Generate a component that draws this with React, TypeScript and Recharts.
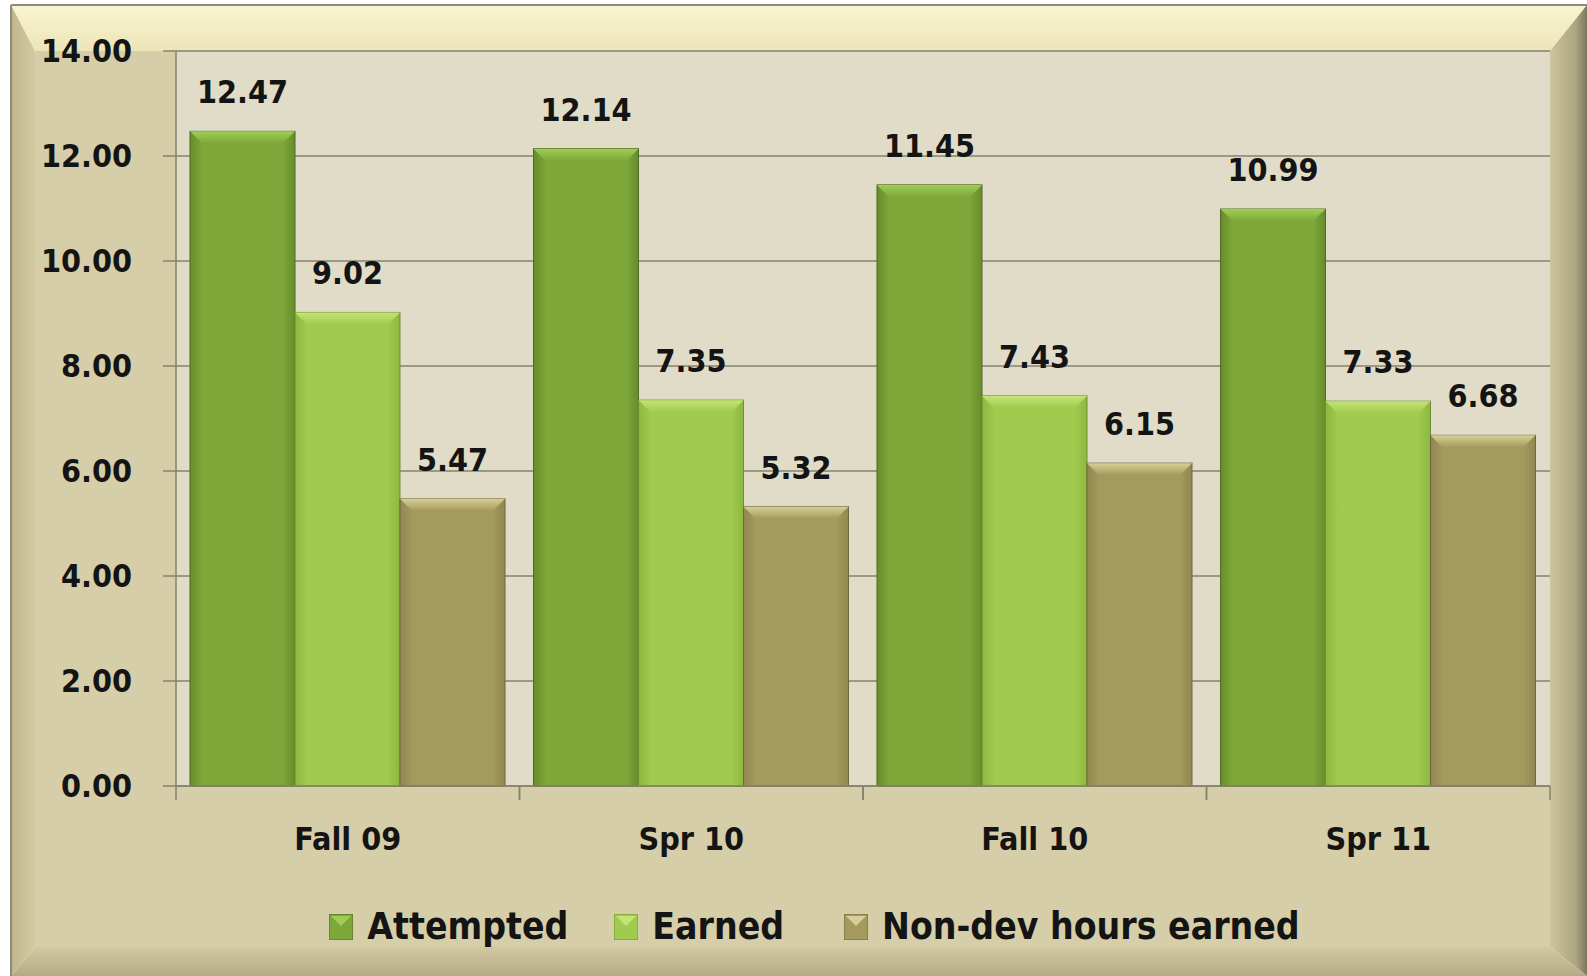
import React from 'react';
import { BarChart, Bar, XAxis, YAxis, CartesianGrid, LabelList, Legend } from 'recharts';

const categories = ['Fall 09', 'Spr 10', 'Fall 10', 'Spr 11'];
const attempted = [12.47, 12.14, 11.45, 10.99];
const earned = [9.02, 7.35, 7.43, 7.33];
const nonDev = [5.47, 5.32, 6.15, 6.68];
const yTicks = [0, 2, 4, 6, 8, 10, 12, 14];

const data = categories.map((name, i) => ({
  name,
  attempted: attempted[i],
  earned: earned[i],
  nonDev: nonDev[i],
}));

const W = 1587;
const H = 976;
const PLOT_LEFT = 176;
const PLOT_RIGHT = 1550;
const HALF_BAND = (PLOT_RIGHT - PLOT_LEFT) / categories.length / 2;

const FONT = '"DejaVu Sans Condensed", "DejaVu Sans", sans-serif';
const AXIS = '#86826e';

const series = [
  { key: 'attempted', name: 'Attempted', dark: '#688c2a', mid: '#7ea73a', top: '#9fce55', edge: '#4f6a22' },
  { key: 'earned', name: 'Earned', dark: '#8cb83e', mid: '#a0cb4f', top: '#c4e477', edge: '#6e8f32' },
  { key: 'nonDev', name: 'Non-dev hours earned', dark: '#928750', mid: '#a49a5d', top: '#d8cf98', edge: '#6f6740' },
];
const legendGaps = [0, 46, 60];

function BevelBar(props: any) {
  const { x, y, width, height, sid } = props;
  if (!height || height <= 0) return null;
  const b = 12;
  const s = series.find((d) => d.key === sid)!;
  return (
    <g>
      <rect x={x} y={y} width={width} height={height} fill={`url(#grad-${sid})`} stroke={s.edge} strokeWidth={1} />
      <polygon
        points={`${x},${y} ${x + width},${y} ${x + width - b},${y + b} ${x + b},${y + b}`}
        fill={`url(#top-${sid})`}
      />
    </g>
  );
}

function XTick(props: any) {
  const { x, y, payload } = props;
  return (
    <g>
      <line x1={x - HALF_BAND} y1={y} x2={x - HALF_BAND} y2={y + 14} stroke={AXIS} strokeWidth={1.5} />
      <line x1={x + HALF_BAND} y1={y} x2={x + HALF_BAND} y2={y + 14} stroke={AXIS} strokeWidth={1.5} />
      <text x={x} y={y + 64} textAnchor="middle" fontFamily={FONT} fontWeight="bold" fontSize={32} fill="#141414">
        {payload.value}
      </text>
    </g>
  );
}

function YTick(props: any) {
  const { x, y, payload } = props;
  return (
    <text x={x} y={y + 11} textAnchor="end" fontFamily={FONT} fontWeight="bold" fontSize={32} fill="#141414">
      {Number(payload.value).toFixed(2)}
    </text>
  );
}

function LegendIcon({ sid }: { sid: string }) {
  const s = series.find((d) => d.key === sid)!;
  return (
    <svg width={24} height={26} style={{ display: 'block' }}>
      <rect x={0} y={0} width={24} height={26} fill={s.mid} stroke={s.edge} strokeWidth={1} />
      <polygon points="2,2 22,2 12,12" fill={s.top} />
    </svg>
  );
}

function renderLegend(props: any) {
  const items = props.payload || [];
  return (
    <div style={{ display: 'flex', justifyContent: 'center', alignItems: 'center', paddingLeft: 42 }}>
      {items.map((it: any, i: number) => (
        <div key={it.value} style={{ display: 'flex', alignItems: 'center', marginLeft: legendGaps[i] }}>
          <LegendIcon sid={it.dataKey} />
          <span style={{ marginLeft: 14, fontFamily: FONT, fontWeight: 'bold', fontSize: 37, color: '#141414' }}>
            {it.value}
          </span>
        </div>
      ))}
    </div>
  );
}

function Frame() {
  const x0 = 11, y0 = 5, x1 = 1587, y1 = 976;
  const xi0 = 35, yi0 = 51, xi1 = 1550, yi1 = 947;
  return (
    <svg width={W} height={H} style={{ position: 'absolute', left: 0, top: 0 }}>
      <defs>
        <linearGradient id="bv-top" x1="0" y1="0" x2="0" y2="1">
          <stop offset="0%" stopColor="#f9f4d2" />
          <stop offset="100%" stopColor="#ede5b8" />
        </linearGradient>
        <linearGradient id="bv-left" x1="0" y1="0" x2="1" y2="0">
          <stop offset="0%" stopColor="#bfb68e" />
          <stop offset="100%" stopColor="#d3caa2" />
        </linearGradient>
        <linearGradient id="bv-right" x1="0" y1="0" x2="1" y2="0">
          <stop offset="0%" stopColor="#cbc49e" />
          <stop offset="70%" stopColor="#aca57f" />
          <stop offset="100%" stopColor="#7c7660" />
        </linearGradient>
        <linearGradient id="bv-bottom" x1="0" y1="0" x2="0" y2="1">
          <stop offset="0%" stopColor="#d2c9a2" />
          <stop offset="100%" stopColor="#b3ab86" />
        </linearGradient>
      </defs>
      <rect x={0} y={0} width={W} height={H} fill="#ffffff" />
      <rect x={xi0} y={yi0} width={xi1 - xi0} height={yi1 - yi0} fill="#d6cea8" />
      <polygon points={`${x0},${y0} ${x1},${y0} ${xi1},${yi0} ${xi0},${yi0}`} fill="url(#bv-top)" />
      <polygon points={`${x0},${y0} ${xi0},${yi0} ${xi0},${yi1} ${x0},${y1}`} fill="url(#bv-left)" />
      <polygon points={`${x1},${y0} ${x1},${y1} ${xi1},${yi1} ${xi1},${yi0}`} fill="url(#bv-right)" />
      <polygon points={`${x0},${y1} ${xi0},${yi1} ${xi1},${yi1} ${x1},${y1}`} fill="url(#bv-bottom)" />
      <line x1={x0} y1={y0} x2={x1} y2={y0} stroke="#8f8b7a" strokeWidth={2} />
      <line x1={x0} y1={y0} x2={x0} y2={y1} stroke="#8f8b7a" strokeWidth={2} />
    </svg>
  );
}

export default function App() {
  return (
    <div style={{ position: 'absolute', left: 0, top: 0, width: W, height: H, overflow: 'hidden' }}>
      <Frame />
      <div style={{ position: 'absolute', left: 0, top: 0 }}>
        <BarChart
          width={W}
          height={H}
          data={data}
          margin={{ top: 51, right: W - PLOT_RIGHT, left: 0, bottom: 130 }}
          barCategoryGap={14}
          barGap={0}
        >
          <defs>
            {series.map((s) => (
              <linearGradient key={s.key} id={`grad-${s.key}`} x1="0" y1="0" x2="1" y2="0">
                <stop offset="0%" stopColor={s.dark} />
                <stop offset="12%" stopColor={s.mid} />
                <stop offset="88%" stopColor={s.mid} />
                <stop offset="100%" stopColor={s.dark} />
              </linearGradient>
            ))}
            {series.map((s) => (
              <linearGradient key={`t-${s.key}`} id={`top-${s.key}`} x1="0" y1="0" x2="0" y2="1">
                <stop offset="0%" stopColor={s.top} />
                <stop offset="100%" stopColor={s.mid} />
              </linearGradient>
            ))}
          </defs>
          <CartesianGrid vertical={false} stroke={AXIS} strokeWidth={1.5} fill="#e0dcc7" fillOpacity={1} />
          <XAxis
            dataKey="name"
            height={60}
            tickSize={0}
            tickMargin={0}
            tick={<XTick />}
            axisLine={{ stroke: AXIS, strokeWidth: 1.5 }}
            interval={0}
          />
          <YAxis
            width={PLOT_LEFT}
            domain={[0, 14]}
            ticks={yTicks}
            tickSize={13}
            tickMargin={31}
            tick={<YTick />}
            tickLine={{ stroke: AXIS, strokeWidth: 1.5 }}
            axisLine={{ stroke: AXIS, strokeWidth: 1.5 }}
          />
          <Legend
            layout="horizontal"
            verticalAlign="middle"
            align="center"
            content={renderLegend}
            wrapperStyle={{ top: 905, left: 0, width: W }}
          />
          {series.map((s) => (
            <Bar
              key={s.key}
              dataKey={s.key}
              name={s.name}
              fill={s.mid}
              isAnimationActive={false}
              shape={(p: any) => <BevelBar {...p} sid={s.key} />}
            >
              <LabelList
                dataKey={s.key}
                position="top"
                offset={28}
                formatter={(v: any) => Number(v).toFixed(2)}
                style={{ fontFamily: FONT, fontWeight: 'bold', fontSize: 32, fill: '#141414' }}
              />
            </Bar>
          ))}
        </BarChart>
      </div>
    </div>
  );
}
